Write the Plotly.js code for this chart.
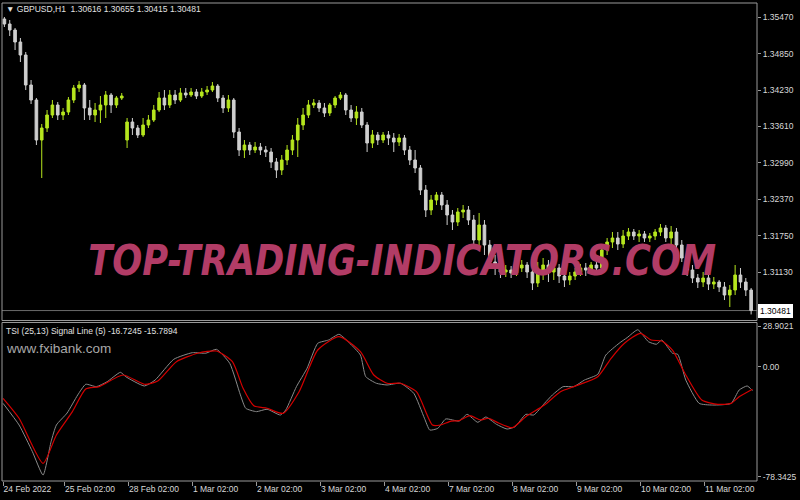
<!DOCTYPE html>
<html>
<head>
<meta charset="utf-8">
<script src="https://cdn.plot.ly/plotly-3.0.1.min.js"></script>
<style>
html,body{margin:0;padding:0;background:#000;}
#chart{width:800px;height:500px;}
</style>
</head>
<body>
<div id="chart"></div>
<script>
// ---- Price data: GBPUSD, 2-hour candles ----
const barOpen = [
1.35437,1.35352,1.35250,1.35046,1.34825,1.34315,1.34060,1.33380,1.33584,1.33805,
1.33975,1.33805,1.33856,1.34060,1.34264,1.34315,1.33924,1.33805,1.33890,1.33975,
1.34145,1.33975,1.34094,1.33380,1.33686,1.33584,1.33465,1.33635,1.33720,1.33890,
1.34094,1.33975,1.34145,1.34060,1.34179,1.34145,1.34196,1.34128,1.34196,1.34230,
1.34298,1.34094,1.33924,1.34060,1.33516,1.33210,1.33295,1.33210,1.33261,1.33210,
1.33176,1.33006,1.32870,1.33040,1.33210,1.33380,1.33635,1.33805,1.33975,1.34009,
1.33924,1.33839,1.33975,1.34094,1.34145,1.33890,1.33754,1.33856,1.33635,1.33329,
1.33465,1.33380,1.33465,1.33414,1.33346,1.33414,1.33210,1.33040,1.32904,1.32530,
1.32190,1.32360,1.32445,1.32275,1.32105,1.31986,1.32156,1.32190,1.32020,1.31680,
1.31935,1.31595,1.31306,1.31204,1.31136,1.31170,1.31119,1.31204,1.31255,1.31136,
1.30949,1.31170,1.31255,1.31136,1.31204,1.31068,1.31000,1.31068,1.31136,1.31204,
1.31170,1.31255,1.31204,1.31510,1.31646,1.31714,1.31612,1.31748,1.31816,1.31748,
1.31782,1.31714,1.31748,1.31816,1.31884,1.31714,1.31816,1.31595,1.31374,1.31170,
1.31034,1.30966,1.31034,1.30932,1.30966,1.30881,1.30745,1.30830,1.31085,1.30966,
1.30830];
const barHigh = [
1.35471,1.35420,1.35284,1.35114,1.34876,1.34400,1.34094,1.33652,1.33890,1.34060,
1.34026,1.33924,1.34111,1.34315,1.34383,1.34349,1.34060,1.34009,1.34128,1.34213,
1.34179,1.34128,1.34179,1.33754,1.33754,1.33635,1.33754,1.33805,1.33975,1.34196,
1.34230,1.34230,1.34230,1.34264,1.34264,1.34264,1.34247,1.34264,1.34298,1.34366,
1.34332,1.34145,1.34145,1.34094,1.33584,1.33380,1.33346,1.33346,1.33329,1.33278,
1.33244,1.33074,1.33125,1.33295,1.33465,1.33754,1.33924,1.34060,1.34077,1.34060,
1.34009,1.34009,1.34128,1.34196,1.34179,1.33975,1.33958,1.33924,1.33686,1.33550,
1.33516,1.33516,1.33533,1.33499,1.33482,1.33465,1.33278,1.33210,1.32955,1.32615,
1.32445,1.32496,1.32496,1.32360,1.32190,1.32224,1.32275,1.32258,1.32105,1.32139,
1.32020,1.31680,1.31425,1.31306,1.31255,1.31238,1.31272,1.31340,1.31306,1.31204,
1.31306,1.31374,1.31340,1.31306,1.31272,1.31136,1.31136,1.31204,1.31272,1.31289,
1.31306,1.31340,1.31595,1.31714,1.31816,1.31816,1.31850,1.31884,1.31867,1.31850,
1.31833,1.31799,1.31867,1.31952,1.31935,1.31918,1.31884,1.31680,1.31425,1.31255,
1.31102,1.31136,1.31102,1.31051,1.31000,1.30966,1.30915,1.31255,1.31204,1.31034,
1.30864];
const barLow = [
1.35301,1.35148,1.34910,1.34706,1.34230,1.33992,1.33295,1.32734,1.33516,1.33754,
1.33720,1.33720,1.33805,1.34009,1.34196,1.33720,1.33720,1.33686,1.33669,1.33754,
1.33839,1.33924,1.34060,1.33244,1.33465,1.33414,1.33431,1.33584,1.33686,1.33856,
1.33890,1.33924,1.33992,1.34026,1.34094,1.34111,1.34077,1.34094,1.34145,1.34196,
1.34026,1.33839,1.33856,1.33414,1.33108,1.33074,1.33125,1.33159,1.33125,1.33091,
1.32904,1.32734,1.32785,1.32955,1.33125,1.33091,1.33550,1.33754,1.33924,1.33856,
1.33771,1.33788,1.33924,1.34060,1.33805,1.33686,1.33635,1.33584,1.33176,1.33244,
1.33295,1.33329,1.33295,1.33176,1.33278,1.33125,1.32955,1.32819,1.32445,1.32071,
1.32105,1.32275,1.32190,1.31935,1.31850,1.31918,1.32054,1.31935,1.31595,1.31544,
1.31425,1.31204,1.31085,1.31034,1.31051,1.31034,1.31068,1.31136,1.31034,1.30830,
1.30881,1.31000,1.30966,1.31000,1.30949,1.30881,1.30915,1.31000,1.31068,1.31068,
1.31102,1.31085,1.31136,1.31425,1.31544,1.31510,1.31544,1.31680,1.31680,1.31646,
1.31646,1.31646,1.31680,1.31748,1.31646,1.31578,1.31510,1.31306,1.31068,1.30949,
1.30864,1.30881,1.30830,1.30847,1.30796,1.30660,1.30541,1.30745,1.30864,1.30728,
1.30415];
const barClose = [
1.35352,1.35250,1.35046,1.34825,1.34315,1.34060,1.33380,1.33584,1.33805,1.33975,
1.33805,1.33856,1.34060,1.34264,1.34315,1.33924,1.33805,1.33890,1.33975,1.34145,
1.33975,1.34094,1.34128,1.33686,1.33584,1.33465,1.33635,1.33720,1.33890,1.34094,
1.33975,1.34145,1.34060,1.34179,1.34145,1.34196,1.34128,1.34196,1.34230,1.34298,
1.34094,1.33924,1.34060,1.33516,1.33210,1.33295,1.33210,1.33261,1.33210,1.33176,
1.33006,1.32870,1.33040,1.33210,1.33380,1.33635,1.33805,1.33975,1.34009,1.33924,
1.33839,1.33975,1.34094,1.34145,1.33890,1.33754,1.33856,1.33635,1.33329,1.33465,
1.33380,1.33465,1.33414,1.33346,1.33414,1.33210,1.33040,1.32904,1.32530,1.32190,
1.32360,1.32445,1.32275,1.32105,1.31986,1.32156,1.32190,1.32020,1.31680,1.31935,
1.31595,1.31306,1.31204,1.31136,1.31170,1.31119,1.31204,1.31255,1.31136,1.30949,
1.31170,1.31255,1.31136,1.31204,1.31068,1.31000,1.31068,1.31136,1.31204,1.31170,
1.31255,1.31204,1.31510,1.31646,1.31714,1.31612,1.31748,1.31816,1.31748,1.31782,
1.31714,1.31748,1.31816,1.31884,1.31714,1.31816,1.31595,1.31374,1.31170,1.31034,
1.30966,1.31034,1.30932,1.30966,1.30881,1.30745,1.30830,1.31085,1.30966,1.30830,
1.30481];
const lastPrice = 1.30481;

// ---- TSI (25,13) and Signal line (5), hour index from first bar ----
const tsiHour = [0,6,11,15,18,20,24,28,31,35,39,44,46,53,57,64,71,76,80,85,89,91,95,99,104,106,110,114,118,122,126,130,134,136,140,144,149,154,158,160,163,166,171,174,178,181,185,189,192,196,199,203,206,210,214,218,223,226,231,234,238,242,245,247,251,253,256,261,266,273,276,279,281];
const tsiValue = [-25.9,-41.3,-60.3,-77.0,-53.2,-41.3,-32.8,-19.9,-12.3,-14.0,-10.5,-3.8,-6.9,-13.5,-9.3,5.5,10.2,9.8,12.6,2.6,-19.9,-29.4,-31.8,-30.1,-34.2,-30.6,-14.0,-0.9,16.9,19.2,23.3,16.9,8.5,-6.9,-11.6,-12.8,-11.6,-18.7,-36.5,-44.9,-43.7,-37.0,-38.5,-33.7,-39.4,-35.6,-40.8,-44.2,-42.5,-33.7,-34.2,-25.9,-19.9,-14.0,-14.0,-9.3,-5.2,8.5,16.9,20.9,26.5,18.0,16.2,19.2,9.8,9.0,-9.3,-25.9,-27.1,-25.9,-16.4,-13.5,-16.7245];
const sigHour = [0,6,15,20,26,31,36,45,53,58,65,73,80,86,90,94,99,105,111,118,126,134,139,144,149,155,161,164,168,171,175,179,182,186,191,196,203,209,215,223,228,233,239,243,247,251,256,262,268,273,276,281];
const sigValue = [-22.3,-36.5,-68.6,-48.4,-31.8,-15.7,-14.0,-5.7,-12.3,-10.0,3.8,9.8,11.4,3.8,-15.2,-27.6,-29.4,-33.0,-17.6,12.1,21.6,10.9,-5.7,-11.6,-11.6,-17.6,-41.3,-41.3,-38.5,-38.2,-34.7,-37.7,-36.5,-40.1,-43.2,-35.4,-27.1,-17.6,-13.3,-6.9,6.2,16.9,24.0,19.2,18.5,12.1,-5.7,-23.5,-26.6,-25.9,-21.2,-15.7894];

// ---- Axis labels ----
const timeTickHour = [0,23,47,71,95,119,143,167,191,215,239,263];
const timeTickText = ['24 Feb 2022','25 Feb 02:00','28 Feb 02:00','1 Mar 02:00','2 Mar 02:00','3 Mar 02:00','4 Mar 02:00','7 Mar 02:00','8 Mar 02:00','9 Mar 02:00','10 Mar 02:00','11 Mar 02:00'];
const priceTicks = [1.35470,1.34850,1.34230,1.33610,1.32990,1.32370,1.31750,1.31130];
const tsiTicks = [28.9021,0,-78.3425];
const tsiTickText = ['28.9021','0.00','-78.3425'];

const barHour = barClose.map((_, i) => i * 2 + 0.5);

const FONT = 'Liberation Sans, Arial, sans-serif';
const AXC = '#9a9a9a';

const traces = [
  {
    type: 'candlestick',
    x: barHour, open: barOpen, high: barHigh, low: barLow, close: barClose,
    xaxis: 'x', yaxis: 'y',
    increasing: {line: {color: '#b6e61e', width: 1}, fillcolor: '#b6e61e'},
    decreasing: {line: {color: '#cfcfcf', width: 1}, fillcolor: '#cfcfcf'},
    whiskerwidth: 0,
    hoverinfo: 'skip'
  },
  {
    type: 'scatter', mode: 'lines', x: tsiHour, y: tsiValue,
    xaxis: 'x', yaxis: 'y2',
    line: {color: '#8a8a8a', width: 1, shape: 'spline', smoothing: 0.5},
    hoverinfo: 'skip'
  },
  {
    type: 'scatter', mode: 'lines', x: sigHour, y: sigValue,
    xaxis: 'x', yaxis: 'y2',
    line: {color: '#d40000', width: 1.2, shape: 'spline', smoothing: 0.6},
    hoverinfo: 'skip'
  }
];

const mainBottom = 0.3358, tsiTop = 0.3316;

const layout = {
  width: 800, height: 500,
  paper_bgcolor: '#000', plot_bgcolor: '#000',
  margin: {l: 2, r: 43, t: 3, b: 19},
  showlegend: false,
  font: {family: FONT, size: 8.5, color: '#d8d8d8'},
  xaxis: {
    anchor: 'y2', range: [-0.4, 282.7], showgrid: false, zeroline: false,
    tickmode: 'array', tickvals: timeTickHour, ticktext: timeTickText,
    ticks: 'outside', ticklen: 4, tickcolor: AXC, tickwidth: 1,
    ticklabelposition: 'outside right',
    tickfont: {family: FONT, size: 8.5, color: '#d8d8d8'},
    rangeslider: {visible: false}, showline: false, fixedrange: true
  },
  yaxis: {
    domain: [mainBottom, 1], side: 'right', anchor: 'x',
    range: [1.30312, 1.35709], showgrid: false, zeroline: false,
    tickmode: 'array', tickvals: priceTicks, ticktext: priceTicks.map(v => v.toFixed(5)),
    ticks: 'outside', ticklen: 3, tickcolor: AXC,
    tickfont: {family: FONT, size: 8.5, color: '#d8d8d8'}, showline: false
  },
  yaxis2: {
    domain: [0, tsiTop], side: 'right', anchor: 'x',
    range: [-81.2, 31.7], showgrid: false, zeroline: false,
    tickmode: 'array', tickvals: tsiTicks, ticktext: tsiTickText,
    ticks: 'outside', ticklen: 3, tickcolor: AXC,
    tickfont: {family: FONT, size: 8.5, color: '#d8d8d8'}, showline: false
  },
  shapes: [
    {type: 'line', xref: 'paper', yref: 'y', x0: 0, x1: 1, y0: lastPrice, y1: lastPrice,
     line: {color: '#6a6a6a', width: 1}, layer: 'below'},
    {type: 'rect', xref: 'paper', yref: 'paper', x0: 0, x1: 1, y0: mainBottom, y1: 1,
     line: {color: AXC, width: 1}},
    {type: 'rect', xref: 'paper', yref: 'paper', x0: 0, x1: 1, y0: 0, y1: tsiTop,
     line: {color: AXC, width: 1}}
  ],
  annotations: [
    {xref: 'paper', yref: 'paper', x: 0.003, y: 0.9874, xanchor: 'left', yanchor: 'middle',
     showarrow: false, text: '▼ GBPUSD,H1&nbsp; 1.30616 1.30655 1.30415 1.30481',
     font: {family: FONT, size: 8.5, color: '#e0e0e0'}},
    {xref: 'paper', yref: 'paper', x: 0.003, y: 0.3138, xanchor: 'left', yanchor: 'middle',
     showarrow: false, text: 'TSI (25,13) Signal Line (5) -16.7245 -15.7894',
     font: {family: FONT, size: 8.5, color: '#e0e0e0'}},
    {xref: 'paper', yref: 'paper', x: 0.002, y: 0.2782, xanchor: 'left', yanchor: 'middle',
     showarrow: false, text: 'www.fxibank.com',
     font: {family: FONT, size: 13.5, color: '#a8a8a8'}},
    {xref: 'paper', yref: 'paper', x: 0.5298, y: 0.4623, xanchor: 'center', yanchor: 'middle',
     showarrow: false, text: 'TOP-TRADING-INDICATORS.COM',
     font: {family: 'DejaVu Sans Condensed, DejaVu Sans, sans-serif',
            size: 43, color: '#b23c66', weight: 'bold', style: 'italic'}},
    {xref: 'paper', yref: 'y', x: 1, y: lastPrice, xanchor: 'left', yanchor: 'middle', xshift: 1,
     showarrow: false, text: lastPrice.toFixed(5), bgcolor: '#ffffff', bordercolor: '#ffffff',
     borderpad: 1, font: {family: FONT, size: 8.5, color: '#000000'}}
  ]
};

Plotly.newPlot('chart', traces, layout, {displayModeBar: false, staticPlot: true}).then(() => {
  // narrow the watermark horizontally to the reference width
  const texts = document.querySelectorAll('#chart .annotation-text');
  texts.forEach(t => {
    if (t.textContent === 'TOP-TRADING-INDICATORS.COM') {
      const w = t.getBBox().width;
      const s = 628 / w;
      t.style.transformBox = 'fill-box';
      t.style.transformOrigin = 'center';
      t.style.transform = 'scaleX(' + s + ')';
    }
  });
});
</script>
</body>
</html>
